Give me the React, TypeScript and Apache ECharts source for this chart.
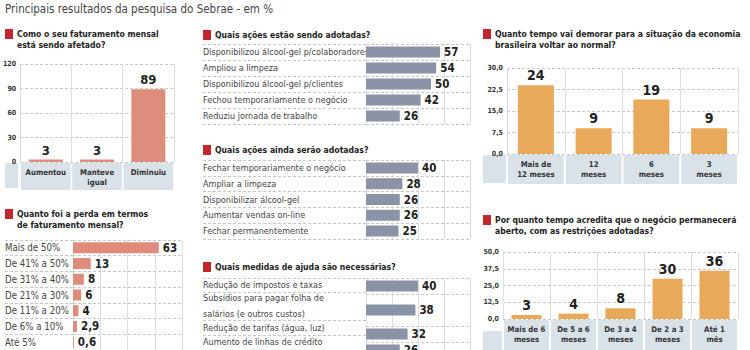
import React, { useEffect, useRef } from 'react';
import * as echarts from 'echarts';

// ---------- data ----------
const faturamentoCats = ['Aumentou', 'Manteve\nigual', 'Diminuiu'];
const faturamentoVals = [3, 3, 89];

const perdaCats = ['Mais de 50%', 'De 41% a 50%', 'De 31% a 40%', 'De 21% a 30%', 'De 11% a 20%', 'De 6% a 10%', 'Até 5%'];
const perdaVals = [63, 13, 8, 6, 4, 2.9, 0.6];

const adotadasCats = ['Disponibilizou álcool-gel p/colaboradores', 'Ampliou a limpeza', 'Disponibilizou álcool-gel p/clientes', 'Fechou temporariamente o negócio', 'Reduziu jornada de trabalho'];
const adotadasVals = [57, 54, 50, 42, 26];

const aindaCats = ['Fechar temporariamente o negócio', 'Ampliar a limpeza', 'Disponibilizar álcool-gel', 'Aumentar vendas on-line', 'Fechar permanentemente'];
const aindaVals = [40, 28, 26, 26, 25];

const ajudaCats = ['Redução de impostos e taxas', 'Subsídios para pagar folha de\nsalários (e outros custos)', 'Redução de tarifas (água, luz)', 'Aumento de linhas de crédito'];
const ajudaVals = [40, 38, 32, 26];

const economiaCats = ['Mais de\n12 meses', '12\nmeses', '6\nmeses', '3\nmeses'];
const economiaVals = [24, 9, 19, 9];

const abertoCats = ['Mais de 6\nmeses', 'De 5 a 6\nmeses', 'De 3 a 4\nmeses', 'De 2 a 3\nmeses', 'Até 1\nmês'];
const abertoVals = [3, 4, 8, 30, 36];

const headline = 'Principais resultados da pesquisa do Sebrae - em %';
const titles = {
  faturamento: 'Como o seu faturamento mensal\nestá sendo afetado?',
  perda: 'Quanto foi a perda em termos\nde faturamento mensal?',
  adotadas: 'Quais ações estão sendo adotadas?',
  ainda: 'Quais ações ainda serão adotadas?',
  ajuda: 'Quais medidas de ajuda são necessárias?',
  economia: 'Quanto tempo vai demorar para a situação da economia\nbrasileira voltar ao normal?',
  aberto: 'Por quanto tempo acredita que o negócio permanecerá\naberto, com as restrições adotadas?',
};

// ---------- style ----------
const FONT = "'DejaVu Sans Condensed', 'Liberation Sans Narrow', sans-serif";
const RED = '#c1272d';
const SALMON = '#de8d7d';
const GRAY = '#8b93a6';
const ORANGE = '#e9a95b';
const BAND = '#dae2e9';
const DASH = '#c8c8c8';
const VLINE = '#dedede';
const TXT = '#222';
const LBL = '#444';

const fmt = (v: number) => String(v).replace('.', ',');
const fmt1 = (v: number) => v.toFixed(1).replace('.', ',');

export default function App() {
  const ref = useRef<HTMLDivElement>(null);

  useEffect(() => {
    if (!ref.current) return;
    const chart = echarts.init(ref.current, undefined, { renderer: 'svg' });

    const grids: any[] = [];
    const xAxes: any[] = [];
    const yAxes: any[] = [];
    const series: any[] = [];
    const graphics: any[] = [];

    const hidden = { show: false };

    // vertical bar panel
    const vPanel = (g: any, cats: string[], vals: number[], max: number, interval: number, color: string, barW: number, bandH: number, yFmt: (v: number) => string, valSize: number) => {
      const gi = grids.length;
      grids.push(g);
      const catW = g.width / cats.length;
      xAxes.push({
        type: 'category', gridIndex: gi, data: cats,
        axisLine: hidden, axisTick: hidden,
        splitLine: { show: true, lineStyle: { color: VLINE, width: 1 } },
        axisLabel: {
          interval: 0, margin: 1, fontFamily: FONT, fontSize: 7.8, fontWeight: 'bold', color: '#333',
          lineHeight: 10.5, backgroundColor: BAND, width: catW - 2, height: bandH - 4, padding: [4, 0, 0, 0],
          align: 'center', verticalAlign: 'top',
        },
      });
      yAxes.push({
        type: 'value', gridIndex: gi, min: 0, max, interval,
        axisLine: hidden, axisTick: hidden,
        splitLine: { show: true, lineStyle: { color: DASH, type: [3, 2] } },
        axisLabel: { fontFamily: FONT, fontSize: 7, fontWeight: 'bold', color: '#333', margin: 4, formatter: yFmt },
      });
      series.push({
        type: 'bar', xAxisIndex: gi, yAxisIndex: gi, data: vals, barWidth: barW,
        itemStyle: { color },
        label: { show: true, position: 'top', distance: 3, fontFamily: FONT, fontSize: valSize, fontWeight: 'bold', color: TXT, formatter: (p: any) => fmt(p.value) },
      });
    };

    // horizontal bar panel (category rows)
    const hPanel = (left: number, labelW: number, barAreaW: number, top: number, height: number, cats: string[], vals: number[], max: number, color: string, labelSize: number) => {
      // label grid
      const ga = grids.length;
      grids.push({ left, top, width: labelW, height });
      xAxes.push({ type: 'value', gridIndex: ga, min: 0, max: 1, show: false });
      yAxes.push({
        type: 'category', gridIndex: ga, data: cats, inverse: true,
        axisLine: hidden, axisTick: hidden,
        splitLine: { show: true, lineStyle: { color: DASH, type: [3, 2] } },
        axisLabel: { inside: true, margin: 0, fontFamily: FONT, fontSize: labelSize, color: LBL },
      });
      // bar grid
      const gb = grids.length;
      grids.push({ left: left + labelW, top, width: barAreaW, height });
      xAxes.push({
        type: 'value', gridIndex: gb, min: 0, max, interval: 20,
        axisLine: hidden, axisTick: hidden, axisLabel: hidden,
        splitLine: { show: true, lineStyle: { color: VLINE } },
      });
      yAxes.push({
        type: 'category', gridIndex: gb, data: cats, inverse: true,
        axisLine: hidden, axisTick: hidden, axisLabel: hidden,
        splitLine: { show: true, lineStyle: { color: DASH, type: [3, 2] } },
      });
      series.push({
        type: 'bar', xAxisIndex: gb, yAxisIndex: gb, data: vals, barWidth: 11,
        itemStyle: { color },
        label: { show: true, position: 'right', distance: 4, fontFamily: FONT, fontSize: 11.5, fontWeight: 'bold', color: TXT, formatter: (p: any) => fmt(p.value) },
      });
    };

    // ---- panel: faturamento ----
    vPanel({ left: 19, top: 64, width: 155, height: 98 }, faturamentoCats, faturamentoVals, 120, 30, SALMON, 34, 27, (v) => String(v), 13);
    // ---- panel: economia ----
    vPanel({ left: 507, top: 68, width: 231, height: 86 }, economiaCats, economiaVals, 30, 7.5, ORANGE, 36, 29, fmt1, 14);
    // ---- panel: aberto ----
    vPanel({ left: 503, top: 252, width: 235, height: 78 }, abertoCats, abertoVals, 50, 12.5, ORANGE, 30, 30, fmt1, 14);

    // ---- horizontal panels ----
    hPanel(5, 68, 109, 240, 110, perdaCats, perdaVals, 80, SALMON, 9.6);
    hPanel(203, 163, 104, 44, 80, adotadasCats, adotadasVals, 80, GRAY, 9);
    hPanel(203, 163, 104, 160, 79, aindaCats, aindaVals, 80, GRAY, 9);

    // ---- panel: ajuda (rows of different heights) ----
    {
      const spans = ajudaCats.map((c) => c.split('\n').length);
      const centers: number[] = [];
      const bounds: number[] = [0];
      let acc = 0;
      spans.forEach((s) => { centers.push(acc + s / 2); acc += s; bounds.push(acc); });
      const total = centers[centers.length - 1]; // the picture is cut through the last row
      const unit = 16;
      const top = 278;
      const height = unit * total;
      const ticks: number[] = [];
      for (let t = 0; t <= total + 1e-9; t += 0.5) ticks.push(t);
      const lineColors = ticks.map((t) => (bounds.some((b) => Math.abs(b - t) < 1e-6) ? DASH : 'rgba(0,0,0,0)'));
      const labelFor = (v: number) => {
        const i = centers.findIndex((c) => Math.abs(c - v) < 1e-6);
        return i >= 0 ? ajudaCats[i] : '';
      };
      const ga = grids.length;
      grids.push({ left: 203, top, width: 163, height });
      xAxes.push({ type: 'value', gridIndex: ga, min: 0, max: 1, show: false });
      yAxes.push({
        type: 'value', gridIndex: ga, inverse: true, min: 0, max: total, interval: 0.5,
        axisLine: hidden, axisTick: hidden,
        splitLine: { show: true, lineStyle: { color: lineColors, type: [3, 2] } },
        axisLabel: { inside: true, margin: 0, fontFamily: FONT, fontSize: 9, color: LBL, lineHeight: 16, formatter: labelFor, showMinLabel: true, showMaxLabel: true },
      });
      const gb = grids.length;
      grids.push({ left: 366, top, width: 104, height });
      xAxes.push({
        type: 'value', gridIndex: gb, min: 0, max: 80, interval: 20,
        axisLine: hidden, axisTick: hidden, axisLabel: hidden,
        splitLine: { show: true, lineStyle: { color: VLINE } },
      });
      yAxes.push({
        type: 'value', gridIndex: gb, inverse: true, min: 0, max: total, interval: 0.5,
        axisLine: hidden, axisTick: hidden, axisLabel: hidden,
        splitLine: { show: true, lineStyle: { color: lineColors, type: [3, 2] } },
      });
      series.push({
        type: 'custom', xAxisIndex: gb, yAxisIndex: gb, clip: false,
        data: ajudaVals.map((v, i) => [v, centers[i]]),
        renderItem: (_p: any, api: any) => {
          const v = api.value(0);
          const c = api.value(1);
          const p0 = api.coord([0, c]);
          const p1 = api.coord([v, c]);
          return {
            type: 'group',
            children: [
              { type: 'rect', shape: { x: p0[0], y: p0[1] - 5.5, width: p1[0] - p0[0], height: 11 }, style: { fill: GRAY } },
              { type: 'text', x: p1[0] + 4, y: p1[1], style: { text: fmt(v), fill: TXT, font: `bold 11.5px ${FONT}`, verticalAlign: 'middle', align: 'left' } },
            ],
          };
        },
      });
    }

    // ---- graphics: headline, red squares, titles, band corners ----
    graphics.push({ type: 'text', left: 5, top: 3, style: { text: headline, font: `11.5px ${FONT}`, fill: '#444' } });
    const titleAt = (x: number, y: number, text: string) => {
      graphics.push({ type: 'rect', shape: { x: x - 12, y: y - 4, width: 8, height: 10 }, style: { fill: RED } });
      graphics.push({ type: 'text', x, y: y - 5, style: { text, font: `bold 8.6px ${FONT}`, fill: TXT, lineHeight: 11.5 } });
    };
    titleAt(17, 33, titles.faturamento);
    titleAt(17, 213, titles.perda);
    titleAt(215, 34, titles.adotadas);
    titleAt(215, 149, titles.ainda);
    titleAt(215, 266, titles.ajuda);
    titleAt(495, 33, titles.economia);
    titleAt(495, 219, titles.aberto);
    graphics.push({ type: 'rect', shape: { x: 5, y: 163, width: 13, height: 25 }, style: { fill: BAND } });
    graphics.push({ type: 'rect', shape: { x: 483, y: 155, width: 23, height: 28 }, style: { fill: BAND } });
    graphics.push({ type: 'rect', shape: { x: 483, y: 331, width: 19, height: 30 }, style: { fill: BAND } });

    chart.setOption({
      animation: false,
      backgroundColor: '#fff',
      textStyle: { fontFamily: FONT },
      grid: grids,
      xAxis: xAxes,
      yAxis: yAxes,
      series,
      graphic: graphics,
    });

    return () => chart.dispose();
  }, []);

  return <div ref={ref} style={{ position: 'fixed', left: 0, top: 0, width: 750, height: 350 }} />;
}
